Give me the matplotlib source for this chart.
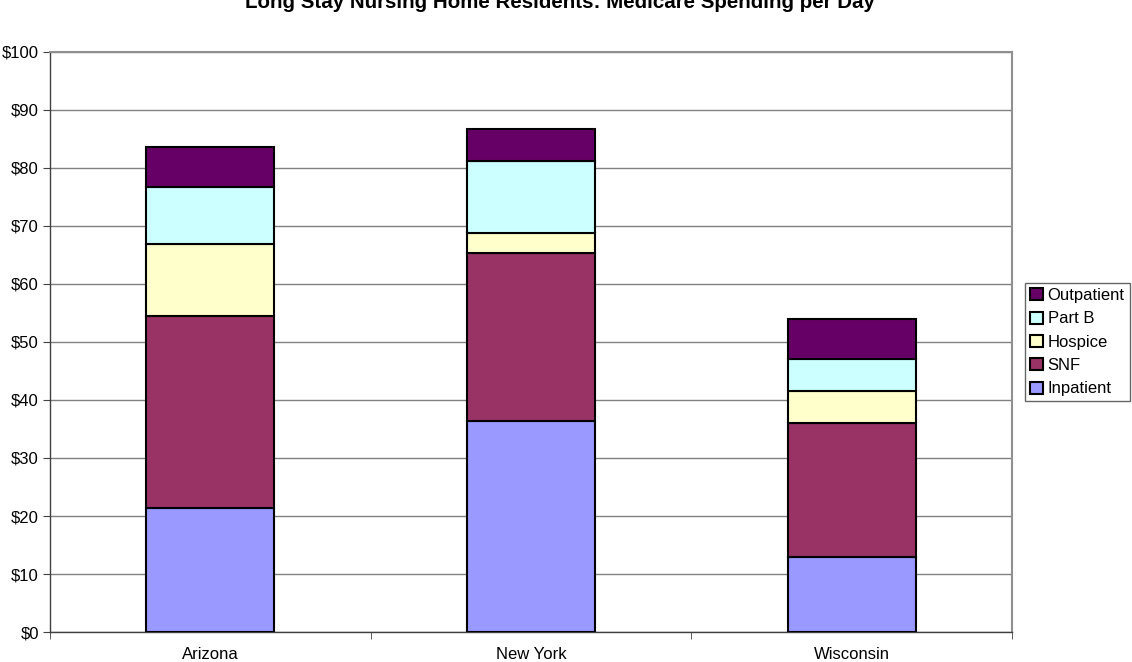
import matplotlib
matplotlib.use('Agg')
import numpy as np
import matplotlib.pyplot as plt
from matplotlib.ticker import FuncFormatter, FixedLocator

plt.rcParams['font.family'] = ['Liberation Sans', 'DejaVu Sans']

states = ['Arizona', 'New York', 'Wisconsin']
inpatient = [21.4, 36.4, 12.9]
snf = [33.1, 28.9, 23.2]
hospice = [12.4, 3.5, 5.5]
part_b = [9.9, 12.4, 5.4]
outpatient = [6.8, 5.5, 7.0]

series = [('Inpatient', inpatient, '#9999FF'),
          ('SNF', snf, '#993366'),
          ('Hospice', hospice, '#FFFFCC'),
          ('Part B', part_b, '#CCFFFF'),
          ('Outpatient', outpatient, '#660066')]

fig = plt.figure(figsize=(11.32, 6.62), dpi=100)
ax = fig.add_axes([0.0442, 0.0453, 0.8498, 0.8762])

x = np.arange(len(states))
bottom = np.zeros(len(states))
handles = []
for name, vals, col in series:
    b = ax.bar(x, vals, width=0.4, bottom=bottom, color=col,
               edgecolor='black', linewidth=1.5, label=name, zorder=3)
    handles.append(b)
    bottom += np.array(vals)

ax.set_xlim(-0.5, len(states) - 0.5)
ax.set_ylim(0, 100)
ax.set_yticks(np.arange(0, 101, 10))
ax.yaxis.set_major_formatter(FuncFormatter(lambda v, p: f'${v:.0f}'))
ax.set_xticks(x)
ax.set_xticklabels(states)
ax.xaxis.set_minor_locator(FixedLocator(np.arange(-0.5, len(states), 1.0)))
ax.tick_params(axis='x', which='major', length=0, labelsize=12, pad=11)
ax.tick_params(axis='x', which='minor', length=5, color='#404040')
ax.tick_params(axis='y', length=5, labelsize=12, color='#404040', pad=3)
ax.grid(axis='y', color='#808080', linewidth=1, zorder=0)

for s in ['top', 'right']:
    ax.spines[s].set_color('#909090')
    ax.spines[s].set_linewidth(1.5)
for s in ['left', 'bottom']:
    ax.spines[s].set_color('#404040')
    ax.spines[s].set_linewidth(1)

leg = fig.legend(handles[::-1], [s[0] for s in series][::-1],
                 loc='center left', bbox_to_anchor=(0.9055, 0.483),
                 fontsize=12, frameon=True, fancybox=False,
                 edgecolor='#404040', handlelength=0.75, handleheight=0.75,
                 handletextpad=0.3, borderpad=0.3, labelspacing=0.5,
                 borderaxespad=0)
leg.get_frame().set_linewidth(1)

fig.text(0.495, 0.996, 'Long Stay Nursing Home Residents: Medicare Spending per Day',
         ha='center', va='center', fontsize=14.8, fontweight='bold')

plt.savefig('out.png', dpi=100)
plt.close()
